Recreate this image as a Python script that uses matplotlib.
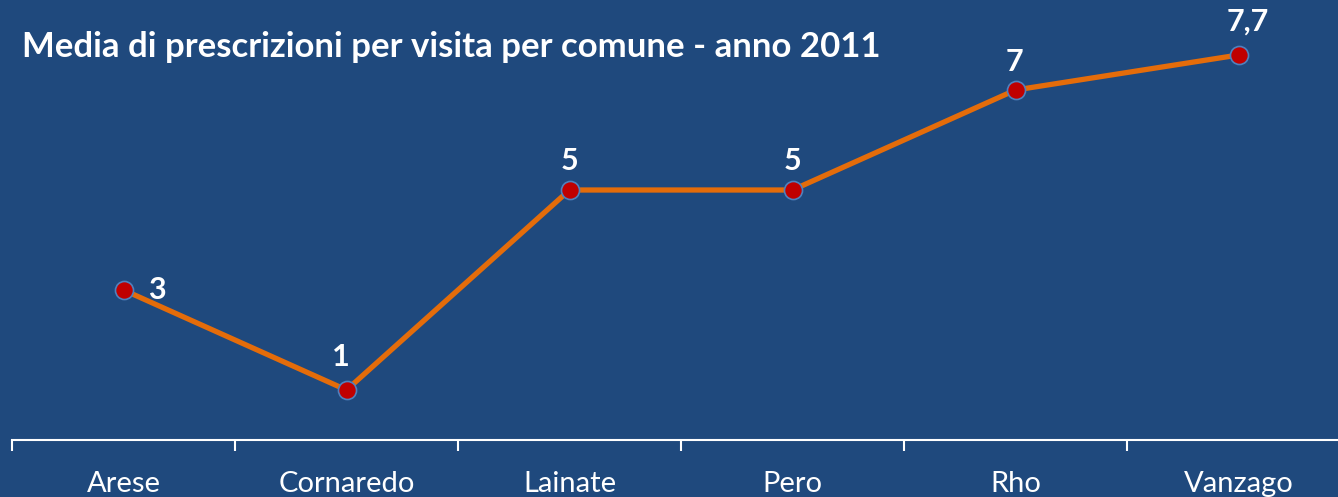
import matplotlib
matplotlib.use("Agg")
import matplotlib.pyplot as plt

# data
comuni = ["Arese", "Cornaredo", "Lainate", "Pero", "Rho", "Vanzago"]
media = [3, 1, 5, 5, 7, 7.7]
etichette = ["3", "1", "5", "5", "7", "7,7"]

bg = "#1F497D"
plt.rcParams["font.family"] = ["Lato", "DejaVu Sans"]

fig = plt.figure(figsize=(13.38, 4.97), dpi=100, facecolor=bg)
# axes spans from x=12px to 1350px, y from 440px up to the top
ax = fig.add_axes([12 / 1338, 57 / 497, 1338 / 1338, 440 / 497])
ax.set_facecolor(bg)

x = list(range(len(comuni)))
ax.plot(x, media, color="#E46C0A", lw=3.8, zorder=2)
ax.plot(x, media, ls="none", marker="o", ms=13, mfc="#C00000",
        mec="#4F81BD", mew=1.2, zorder=3)

# label offsets in points (dx, dy)
offs = [(24, 0), (-4, 24), (0, 21), (0, 21), (-1, 20), (7, 24)]
for i, (v, t) in enumerate(zip(media, etichette)):
    ax.annotate(t, (i, v), xytext=offs[i], textcoords="offset points",
                ha="center", va="center", color="white", fontsize=22,
                fontweight="bold")

ax.set_xlim(-0.5, 5.5)
ax.set_ylim(0, 8.8)
ax.set_yticks([])
ax.set_xticks([i - 0.5 for i in range(len(comuni) + 1)])
ax.set_xticklabels([])
ax.set_xticks(x, minor=True)
ax.set_xticklabels(comuni, minor=True)
ax.tick_params(axis="x", which="major", length=8, width=1.5, color="white")
ax.tick_params(axis="x", which="minor", length=0, pad=22, labelsize=21,
               labelcolor="white")
for s in ["top", "right", "left"]:
    ax.spines[s].set_visible(False)
ax.spines["bottom"].set_color("white")
ax.spines["bottom"].set_linewidth(1.5)

fig.text(22 / 1338, 1 - 47 / 497,
         "Media di prescrizioni per visita per comune - anno 2011",
         color="white", fontsize=25, fontweight="bold", ha="left", va="center")

fig.savefig("out.png", dpi=100, facecolor=bg)
